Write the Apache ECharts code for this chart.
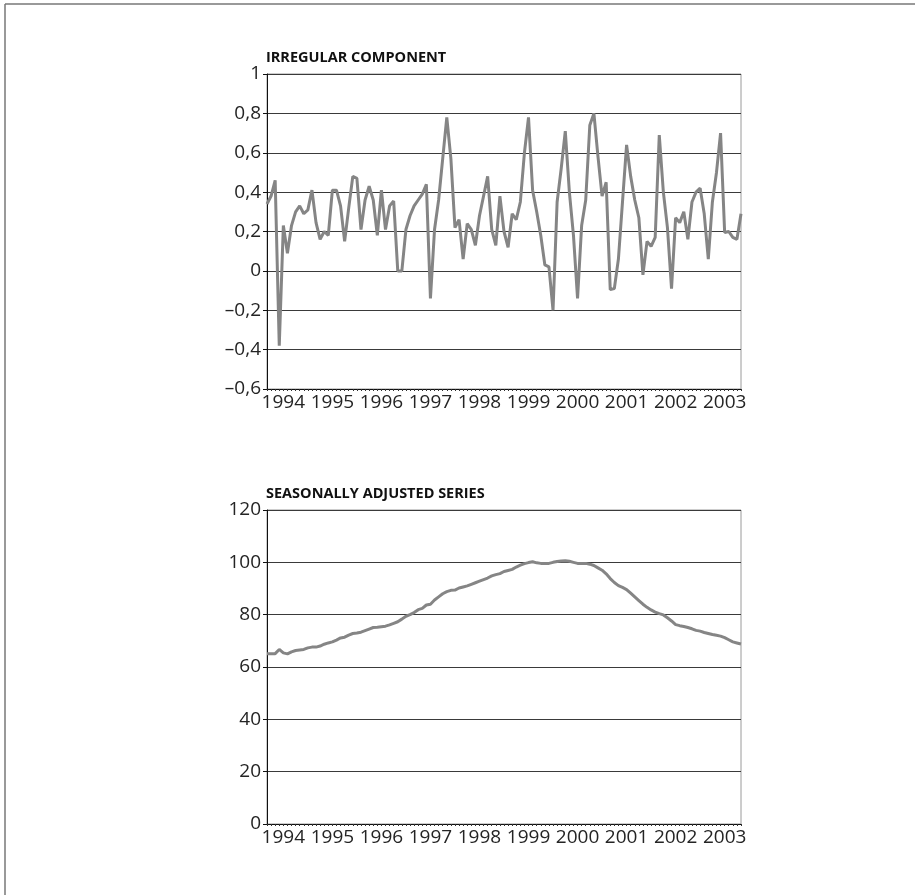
<!DOCTYPE html>
<html>
<head>
<meta charset="utf-8">
<script src="https://cdn.jsdelivr.net/npm/echarts@6/dist/echarts.min.js"></script>
<style>
  html, body { margin: 0; padding: 0; background: #ffffff; }
  #chart { width: 915px; height: 895px; }
</style>
</head>
<body>
<div id="chart"></div>
<script>
// Monthly observations, first month of the series
const startYear = 1993;
const startMonth = 9;

// Irregular component (monthly)
const irregular = [
  0.34, 0.38, 0.46, -0.38, 0.23, 0.09, 0.23, 0.30, 0.33, 0.29,
  0.31, 0.41, 0.245, 0.16, 0.20, 0.18, 0.41, 0.41, 0.33, 0.15,
  0.32, 0.48, 0.47, 0.21, 0.36, 0.43, 0.36, 0.18, 0.41, 0.21,
  0.33, 0.355, 0.00, 0.00, 0.21, 0.28, 0.33, 0.36, 0.39, 0.44,
  -0.14, 0.21, 0.36, 0.57, 0.78, 0.57, 0.22, 0.26, 0.06, 0.24,
  0.21, 0.13, 0.28, 0.38, 0.48, 0.21, 0.13, 0.38, 0.20, 0.12,
  0.29, 0.26, 0.35, 0.60, 0.78, 0.41, 0.30, 0.18, 0.03, 0.02,
  -0.20, 0.35, 0.52, 0.71, 0.40, 0.18, -0.14, 0.23, 0.36, 0.74,
  0.80, 0.58, 0.38, 0.45, -0.095, -0.09, 0.06, 0.35, 0.64, 0.48,
  0.36, 0.27, -0.02, 0.15, 0.125, 0.17, 0.69, 0.40, 0.22, -0.09,
  0.27, 0.245, 0.30, 0.16, 0.35, 0.40, 0.42, 0.29, 0.06, 0.35,
  0.50, 0.70, 0.195, 0.20, 0.17, 0.16, 0.29
];

// Seasonally adjusted series (monthly)
const adjusted = [
  65.1, 65.1, 65.1, 66.7, 65.4, 65.0, 65.8, 66.3, 66.5, 66.7,
  67.3, 67.6, 67.6, 68.0, 68.7, 69.2, 69.6, 70.3, 71.1, 71.4,
  72.2, 72.8, 73.0, 73.3, 73.9, 74.5, 75.1, 75.2, 75.4, 75.6,
  76.1, 76.7, 77.3, 78.3, 79.4, 80.0, 80.8, 81.9, 82.4, 83.7,
  84.0, 85.6, 86.8, 88.0, 88.8, 89.3, 89.4, 90.2, 90.6, 91.0,
  91.6, 92.2, 92.8, 93.4, 94.0, 94.8, 95.3, 95.7, 96.5, 96.9,
  97.3, 98.2, 98.9, 99.5, 99.9, 100.2, 99.8, 99.6, 99.6, 99.6,
  100.0, 100.3, 100.5, 100.6, 100.4, 100.0, 99.6, 99.6, 99.6, 99.3,
  98.8, 97.9, 97.0, 95.6, 93.8, 92.3, 91.1, 90.4, 89.6, 88.2,
  86.8, 85.4, 84.0, 82.8, 81.8, 81.0, 80.4, 79.9, 78.8, 77.6,
  76.2, 75.8, 75.5, 75.1, 74.6, 74.0, 73.7, 73.2, 72.8, 72.4,
  72.1, 71.8, 71.2, 70.4, 69.6, 69.2, 68.8
];

const titles = ['IRREGULAR COMPONENT', 'SEASONALLY ADJUSTED SERIES'];

// Category axis: one entry per month, labelled by year in January
const months = irregular.map((_, i) => {
  const m0 = startMonth - 1 + i;
  const y = startYear + Math.floor(m0 / 12);
  const m = (m0 % 12) + 1;
  return y + '-' + String(m).padStart(2, '0');
});

const FONT = '"Open Sans", "DejaVu Sans", sans-serif';
const TEXT = '#242424';
const GRID = '#3a3a3a';
const LINE = '#858585';

function fmtDecimal(v) {
  const r = Math.round(v * 10) / 10;
  const s = String(Math.abs(r)).replace('.', ',');
  return (r < 0 ? '\u2013' : '') + s;
}

function xAxis(gridIndex) {
  return {
    type: 'category',
    gridIndex,
    data: months,
    boundaryGap: false,
    axisLine: { show: true, onZero: false, lineStyle: { color: '#111', width: 1 } },
    axisTick: { show: true, interval: 0, length: 2, lineStyle: { color: '#333', width: 1 } },
    axisLabel: {
      interval: (idx, val) => val.endsWith('-01'),
      formatter: val => val.slice(0, 4),
      color: TEXT, fontFamily: FONT, fontSize: 19, margin: 4
    },
    splitLine: { show: false }
  };
}

function yAxis(gridIndex, min, max, interval, formatter) {
  return {
    type: 'value',
    gridIndex, min, max, interval,
    axisLine: { show: true, onZero: false, lineStyle: { color: '#111', width: 1 } },
    axisTick: { show: true, length: 4, lineStyle: { color: '#111', width: 1 } },
    axisLabel: { color: TEXT, fontFamily: FONT, fontSize: 19, margin: 6, formatter },
    splitLine: { show: true, lineStyle: { color: GRID, width: 1 } }
  };
}

const chart = echarts.init(document.getElementById('chart'), null, { renderer: 'canvas' });

const titleStyle = { fontFamily: FONT, fontWeight: 'bold', fontSize: 14.5, color: '#111' };

chart.setOption({
  animation: false,
  backgroundColor: '#ffffff',
  title: [
    { text: titles[0], left: 261, top: 45, textStyle: titleStyle },
    { text: titles[1], left: 261, top: 481, textStyle: titleStyle }
  ],
  grid: [
    { left: 267, top: 74, width: 474, height: 315, show: true, borderColor: '#9a9a9a', borderWidth: 1, backgroundColor: 'transparent' },
    { left: 267, top: 510, width: 474, height: 314, show: true, borderColor: '#9a9a9a', borderWidth: 1, backgroundColor: 'transparent' }
  ],
  xAxis: [xAxis(0), xAxis(1)],
  yAxis: [
    yAxis(0, -0.6, 1, 0.2, fmtDecimal),
    yAxis(1, 0, 120, 20, v => String(v))
  ],
  series: [
    { type: 'line', xAxisIndex: 0, yAxisIndex: 0, data: irregular, symbol: 'none',
      lineStyle: { color: LINE, width: 3 } },
    { type: 'line', xAxisIndex: 1, yAxisIndex: 1, data: adjusted, symbol: 'none',
      lineStyle: { color: LINE, width: 3 } }
  ],
  graphic: [
    { type: 'line', shape: { x1: 5, y1: 4, x2: 915, y2: 4 }, style: { stroke: '#777', lineWidth: 1.5 } },
    { type: 'line', shape: { x1: 5, y1: 4, x2: 5, y2: 895 }, style: { stroke: '#777', lineWidth: 1.5 } }
  ]
});
</script>
</body>
</html>
